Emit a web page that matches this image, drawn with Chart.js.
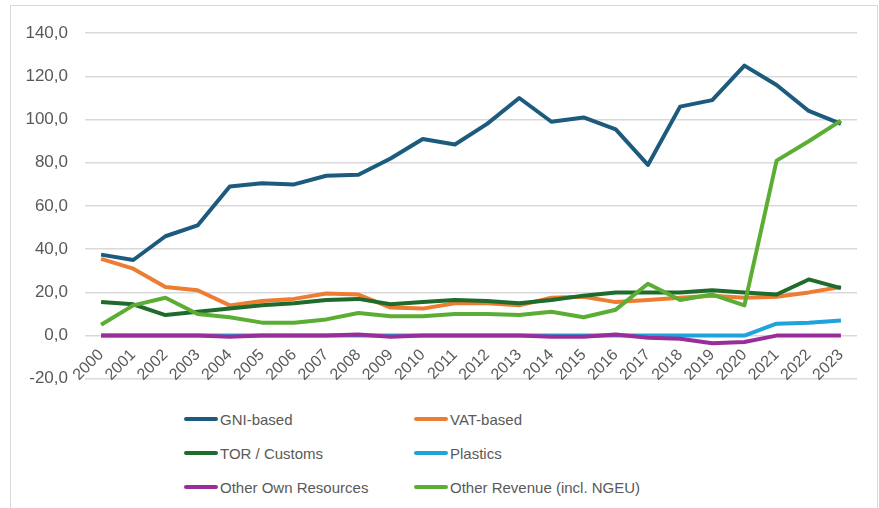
<!DOCTYPE html>
<html>
<head>
<meta charset="utf-8">
<script src="https://cdn.jsdelivr.net/npm/chart.js@4"></script>
<style>
  html, body { margin: 0; padding: 0; background: #fff; }
  #frame {
    position: absolute; left: 10px; top: 5px; width: 866px; height: 510px;
    border: 1px solid #d9d9d9; border-bottom: none;
  }
  #wrap { position: absolute; left: 0; top: 0; width: 868px; height: 400px; }
  #legend {
    position: absolute; left: 0; top: 400px; width: 868px;
    font-family: "Liberation Sans", Arial, sans-serif; font-size: 15px; color: #595959;
  }
  .item { position: absolute; display: flex; align-items: center; height: 20px; }
  .swatch { width: 34px; height: 4px; border-radius: 2px; margin-right: 2px; }
</style>
</head>
<body>
<div id="frame">
  <div id="wrap"><canvas id="chart"></canvas></div>
  <div id="legend"></div>
</div>
<script>
const years = ['2000','2001','2002','2003','2004','2005','2006','2007','2008','2009','2010','2011',
  '2012','2013','2014','2015','2016','2017','2018','2019','2020','2021','2022','2023'];

const gniBased = [37.5, 35, 46, 51, 69, 70.5, 70, 74, 74.5, 82, 91, 88.5,
  98, 110, 99, 101, 95.5, 79, 106, 109, 125, 116, 104, 98];
const vatBased = [35.5, 31, 22.5, 21, 14, 16, 17, 19.5, 19, 13, 12.5, 15,
  15, 14, 17.5, 18, 15.5, 16.5, 17.5, 18.5, 17.5, 18, 20, 22.5];
const torCustoms = [15.5, 14.5, 9.5, 11, 12.5, 14, 15, 16.5, 17, 14.5, 15.5, 16.5,
  16, 15, 16.5, 18.5, 20, 20, 20, 21, 20, 19, 26, 22];
const plastics = [0, 0, 0, 0, 0, 0, 0, 0, 0, 0, 0, 0,
  0, 0, 0, 0, 0, 0, 0, 0, 0, 5.5, 6, 7];
const otherOwn = [0, 0, 0, 0, -0.5, 0, 0, 0, 0.5, -0.5, 0, 0,
  0, 0, -0.5, -0.5, 0.5, -1, -1.5, -3.5, -3, 0, 0, 0];
const otherRevenue = [5, 14, 17.5, 10, 8.5, 6, 6, 7.5, 10.5, 9, 9, 10,
  10, 9.5, 11, 8.5, 12, 24, 16.5, 19, 14, 81, 90, 99.5];

const seriesNames = ['GNI-based', 'VAT-based', 'TOR / Customs', 'Plastics',
  'Other Own Resources', 'Other Revenue (incl. NGEU)'];
const seriesData = [gniBased, vatBased, torCustoms, plastics, otherOwn, otherRevenue];
const seriesColors = ['#1c5b7d', '#ed7d31', '#1e6b2b', '#1ea3dc', '#992e9a', '#5bad34'];

const datasets = seriesNames.map((name, i) => ({
  label: name,
  data: seriesData[i],
  borderColor: seriesColors[i],
  backgroundColor: seriesColors[i],
  borderWidth: 4,
  pointRadius: 0,
  tension: 0,
  fill: false,
  order: seriesNames.length - i,
  borderJoinStyle: 'round'
}));

const fontFamily = '"Liberation Sans", Arial, sans-serif';

new Chart(document.getElementById('chart'), {
  type: 'line',
  data: { labels: years, datasets: datasets },
  options: {
    responsive: true,
    maintainAspectRatio: false,
    animation: false,
    layout: { padding: { left: 0, right: 22, top: 22, bottom: 26 } },
    plugins: { legend: { display: false }, tooltip: { enabled: false } },
    scales: {
      x: {
        // axis crosses at 0 like in the spreadsheet
        position: { y: 0 },
        offset: true,
        grid: { display: false, drawTicks: false },
        border: { display: false },
        ticks: {
          color: '#595959', font: { family: fontFamily, size: 16 },
          maxRotation: 45, minRotation: 45, autoSkip: false, padding: 10
        }
      },
      y: {
        min: -20, max: 140,
        grid: { color: '#d9d9d9', lineWidth: 1.5, drawTicks: false },
        border: { display: false },
        ticks: {
          stepSize: 20, color: '#595959', font: { family: fontFamily, size: 17 }, padding: 17,
          callback: (v) => v.toFixed(1).replace('.', ',')
        },
        afterFit: (scale) => { scale.width = 74; }
      }
    }
  }
});

// legend in two columns
const legend = document.getElementById('legend');
const colX = [173, 403];
const rowY = [3, 37, 71];
seriesNames.forEach((name, i) => {
  const el = document.createElement('div');
  el.className = 'item';
  el.style.left = colX[i % 2] + 'px';
  el.style.top = rowY[Math.floor(i / 2)] + 'px';
  el.innerHTML = '<span class="swatch" style="background:' + seriesColors[i] + '"></span>' + name;
  legend.appendChild(el);
});
</script>
</body>
</html>
